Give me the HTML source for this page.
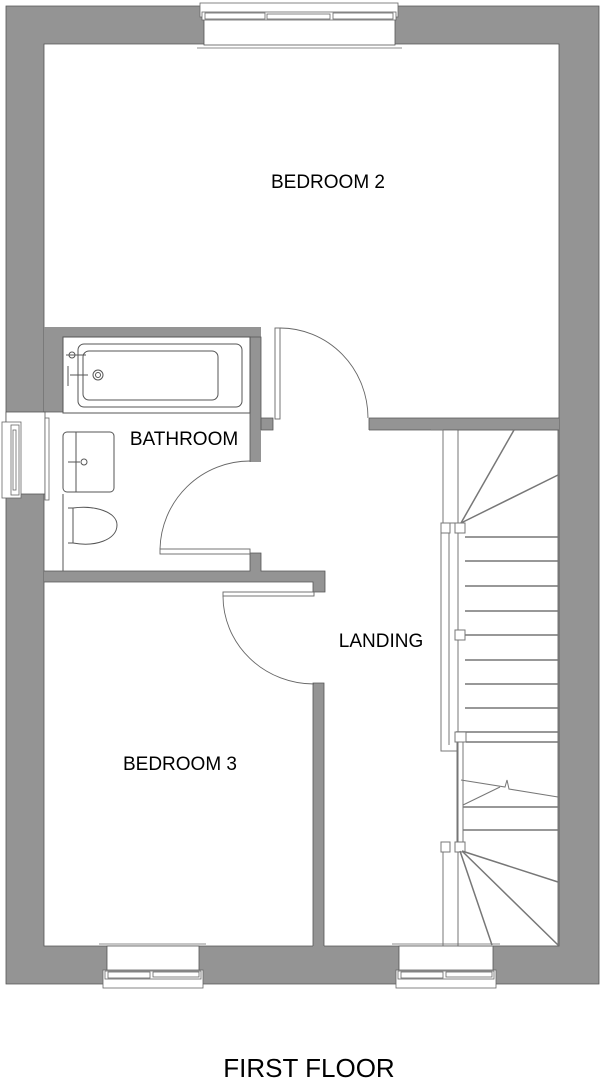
<!DOCTYPE html>
<html><head><meta charset="utf-8"><style>
html,body{margin:0;padding:0;background:#fff;width:600px;height:1090px;overflow:hidden}
svg{display:block}
text{font-family:"Liberation Sans",sans-serif;fill:#000}
</style></head><body>
<svg width="600" height="1090" viewBox="0 0 600 1090" xmlns="http://www.w3.org/2000/svg">
<g fill="#949494" stroke="#555" stroke-width="0.8">
<path fill-rule="evenodd" d="M6 6 H599 V984 H6 Z M44 44 H559 V946 H44 Z"/>
</g>
<g fill="#949494" stroke="none">
<rect x="44" y="327" width="217" height="10"/>
<rect x="44" y="337" width="19" height="75"/>
<rect x="250" y="327" width="11" height="135"/>
<rect x="261" y="418" width="12" height="12"/>
<rect x="250" y="553" width="11" height="29"/>
<rect x="44" y="571" width="281" height="11"/>
<rect x="313" y="582" width="12" height="10"/>
<rect x="369" y="418" width="190" height="12"/>
<rect x="313" y="683" width="11" height="264"/>
</g>
<g stroke="#555" stroke-width="0.8" fill="none">
<path d="M63 337 V412 H44 M63 337 H250 V462 M261 430 V337 H250 M261 430 H273 V418 H261"/>
<path d="M44 571 H250 V553 H261 V571 H325 V592 H313 V582 H44"/>
<path d="M369 418 H559 M369 430 H559 M369 418 V430"/>
<path d="M313 946 V683 H324 V946"/>
</g>
<g fill="#fff" stroke="#555" stroke-width="0.8">
<rect x="204" y="6" width="191" height="39"/>
<rect x="107" y="946" width="92" height="38"/>
<rect x="399" y="946" width="94" height="38"/>
<rect x="6" y="412" width="39" height="82"/>
</g>
<g fill="#fff" stroke="#666" stroke-width="0.8">
<rect x="200" y="3" width="198" height="14"/>
<rect x="202" y="12" width="194" height="8"/>
<rect x="205" y="13" width="60" height="6"/><rect x="267" y="14" width="63" height="5"/><rect x="333" y="13" width="60" height="6"/>
<line x1="197" y1="48" x2="402" y2="48"/>
<rect x="103" y="970" width="100" height="18"/>
<rect x="105" y="971" width="96" height="8"/>
<rect x="108" y="972" width="42" height="6"/><rect x="153" y="972" width="46" height="5"/>
<line x1="99" y1="944" x2="206" y2="944"/>
<rect x="396" y="970" width="100" height="18"/>
<rect x="398" y="971" width="96" height="8"/>
<rect x="401" y="972" width="42" height="6"/><rect x="446" y="972" width="46" height="5"/>
<line x1="392" y1="944" x2="500" y2="944"/>
<rect x="2" y="422" width="19" height="76"/>
<rect x="11" y="425" width="8" height="70"/>
<rect x="13" y="430" width="3" height="60"/>
<rect x="45" y="418" width="4" height="82"/>
</g>
<g fill="#fff" stroke="#666" stroke-width="0.9">
<rect x="275" y="328" width="5" height="91"/>
<path d="M280 328 A88 90 0 0 1 368 418" fill="none"/>
<rect x="160" y="549" width="90" height="5"/>
<path d="M160 549 A90 90 0 0 1 250 461" fill="none"/>
<rect x="223" y="592" width="91" height="4"/>
<path d="M223 596 A91 88 0 0 0 314 684" fill="none"/>
</g>
<g fill="none" stroke="#555" stroke-width="1">
<rect x="63" y="337" width="187" height="76"/>
<rect x="78" y="344" width="164" height="63" rx="6"/>
<rect x="83" y="351" width="135" height="49" rx="6"/>
<circle cx="98" cy="375" r="5"/><circle cx="98" cy="375" r="2.5"/>
<path d="M66 355 h20 M68 366 v20 M70 375 h18"/>
<circle cx="72" cy="355" r="3"/>
<rect x="63" y="432" width="51" height="60" rx="4"/>
<line x1="76" y1="432" x2="76" y2="492"/>
<path d="M68 462 h12"/><circle cx="84" cy="462" r="3"/>
<path d="M68 508 h5 v35 h-5 M73 508 C95 505 117 512 117 525 C117 540 95 547 73 543"/>
<line x1="63" y1="494" x2="63" y2="571"/>
</g>
<g fill="none" stroke="#777" stroke-width="1.5">
<rect x="458" y="430" width="100" height="516" fill="none" stroke="#666" stroke-width="0.9"/>
<line x1="443" y1="430" x2="443" y2="523" stroke-width="1"/>
<line x1="431" y1="430" x2="443" y2="430" stroke-width="1"/>
<rect x="441" y="523" width="17" height="228" fill="#fff" stroke-width="1"/>
<line x1="449" y1="533" x2="449" y2="745" stroke-width="1"/>
<rect x="441" y="523" width="9" height="10" fill="#fff" stroke-width="1"/>
<rect x="455" y="523" width="10" height="10" fill="#fff" stroke-width="1"/>
<rect x="455" y="630" width="10" height="10" fill="#fff" stroke-width="1"/>
<line x1="461" y1="523" x2="514" y2="430"/>
<line x1="461" y1="523" x2="558" y2="475"/>
<path d="M465 537H558M465 561H558M465 586H558M465 611H558M465 635H558M465 660H558M465 684H558M465 708H558"/>
<line x1="456" y1="732" x2="558" y2="732"/>
<line x1="466" y1="742" x2="558" y2="742"/>
<rect x="455" y="732" width="11" height="10" fill="#fff" stroke-width="1"/>
<path d="M457 742 V842 M463 742 V842" stroke-width="1"/>
<path d="M461 780 L505 787 L507 780 L509 789 L558 797" stroke-width="1"/>
<path d="M463 805 L500 787" stroke-width="1"/>
<path d="M463 807H558M463 830H558"/>
<rect x="441" y="842" width="9" height="10" fill="#fff" stroke-width="1"/>
<rect x="455" y="842" width="10" height="10" fill="#fff" stroke-width="1"/>
<line x1="443" y1="852" x2="443" y2="946" stroke-width="1"/>
<line x1="462" y1="851" x2="558" y2="882"/>
<line x1="462" y1="851" x2="558" y2="945"/>
<line x1="460" y1="851" x2="492" y2="945"/>
</g>
<text x="328" y="188" font-size="19" text-anchor="middle">BEDROOM 2</text>
<text x="184" y="445" font-size="19" text-anchor="middle">BATHROOM</text>
<text x="381" y="647" font-size="19" text-anchor="middle">LANDING</text>
<text x="180" y="770" font-size="19" text-anchor="middle">BEDROOM 3</text>
<text x="309" y="1077" font-size="26" text-anchor="middle">FIRST FLOOR</text>
</svg>
</body></html>
